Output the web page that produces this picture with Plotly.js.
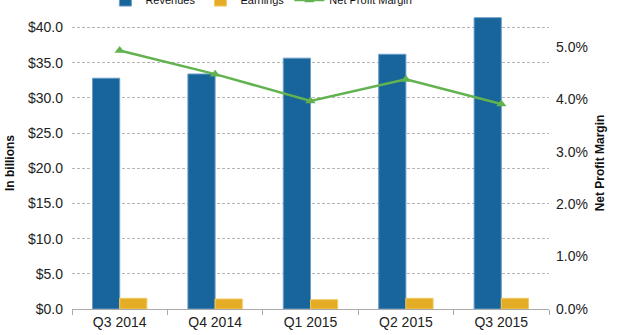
<!DOCTYPE html>
<html>
<head>
<meta charset="utf-8">
<script src="https://cdn.plot.ly/plotly-3.0.1.min.js"></script>
<style>html,body{margin:0;padding:0;background:#fff;}#chart{width:620px;height:335px;}</style>
</head>
<body>
<div id="chart"></div>
<script>
const quarters = ["Q3 2014", "Q4 2014", "Q1 2015", "Q2 2015", "Q3 2015"];
const revenues = [32.8, 33.4, 35.65, 36.2, 41.4];
const earnings = [1.52, 1.42, 1.32, 1.52, 1.52];
const netProfitMargin = [0.0493, 0.0448, 0.0397, 0.0438, 0.0391];

const tickFont = {family: "Liberation Sans, Arial, sans-serif", size: 14, color: "#222"};
const titleFont = {family: "Liberation Sans, Arial, sans-serif", size: 12, color: "#111", weight: "bold"};

const traces = [
  {type: "bar", name: "Revenues", x: quarters, y: revenues,
   marker: {color: "#17659b", line: {color: "#6a9cc8", width: 1}}},
  {type: "bar", name: "Earnings", x: quarters, y: earnings,
   marker: {color: "#e4ad25", line: {color: "#f2c95e", width: 1}}},
  {type: "scatter", mode: "lines+markers", name: "Net Profit Margin", x: quarters, y: netProfitMargin,
   yaxis: "y2", line: {color: "#62b350", width: 2.5},
   marker: {symbol: "triangle-up", size: 9, color: "#62b350"}}
];

const layout = {
  width: 620, height: 335,
  margin: {l: 72, r: 71, t: 17, b: 26, autoexpand: false},
  paper_bgcolor: "#fff", plot_bgcolor: "#fff",
  barmode: "group", bargap: 0.43, bargroupgap: 0,
  showlegend: true,
  legend: {orientation: "h", x: 0.07, xanchor: "left", y: 1.058, yanchor: "middle",
           font: {family: "Liberation Sans, Arial, sans-serif", size: 11, color: "#111"},
           bgcolor: "rgba(0,0,0,0)", traceorder: "normal"},
  xaxis: {type: "category", tickson: "boundaries", ticks: "outside", ticklen: 5, tickcolor: "#aaa",
          showline: true, linecolor: "#aaa", linewidth: 1, showgrid: false, tickfont: tickFont,
          fixedrange: true},
  yaxis: {range: [0, 41.5], dtick: 5, tick0: 0, tickprefix: "$", tickformat: ".1f",
          showgrid: true, gridcolor: "#b5b5b5", griddash: "3px,2px", gridwidth: 1,
          zeroline: false, showline: false, tickfont: tickFont, ticklabelstandoff: 8,
          title: {text: "In billions", font: titleFont, standoff: 10}},
  yaxis2: {overlaying: "y", side: "right", range: [0, 0.0557], dtick: 0.01, tick0: 0,
           tickformat: ".1%", showgrid: false, zeroline: false, showline: false,
           tickfont: tickFont, ticklabelstandoff: 6,
           title: {text: "Net Profit Margin", font: titleFont, standoff: 8}}
};

Plotly.newPlot("chart", traces, layout, {displayModeBar: false, staticPlot: true});
</script>
</body>
</html>
